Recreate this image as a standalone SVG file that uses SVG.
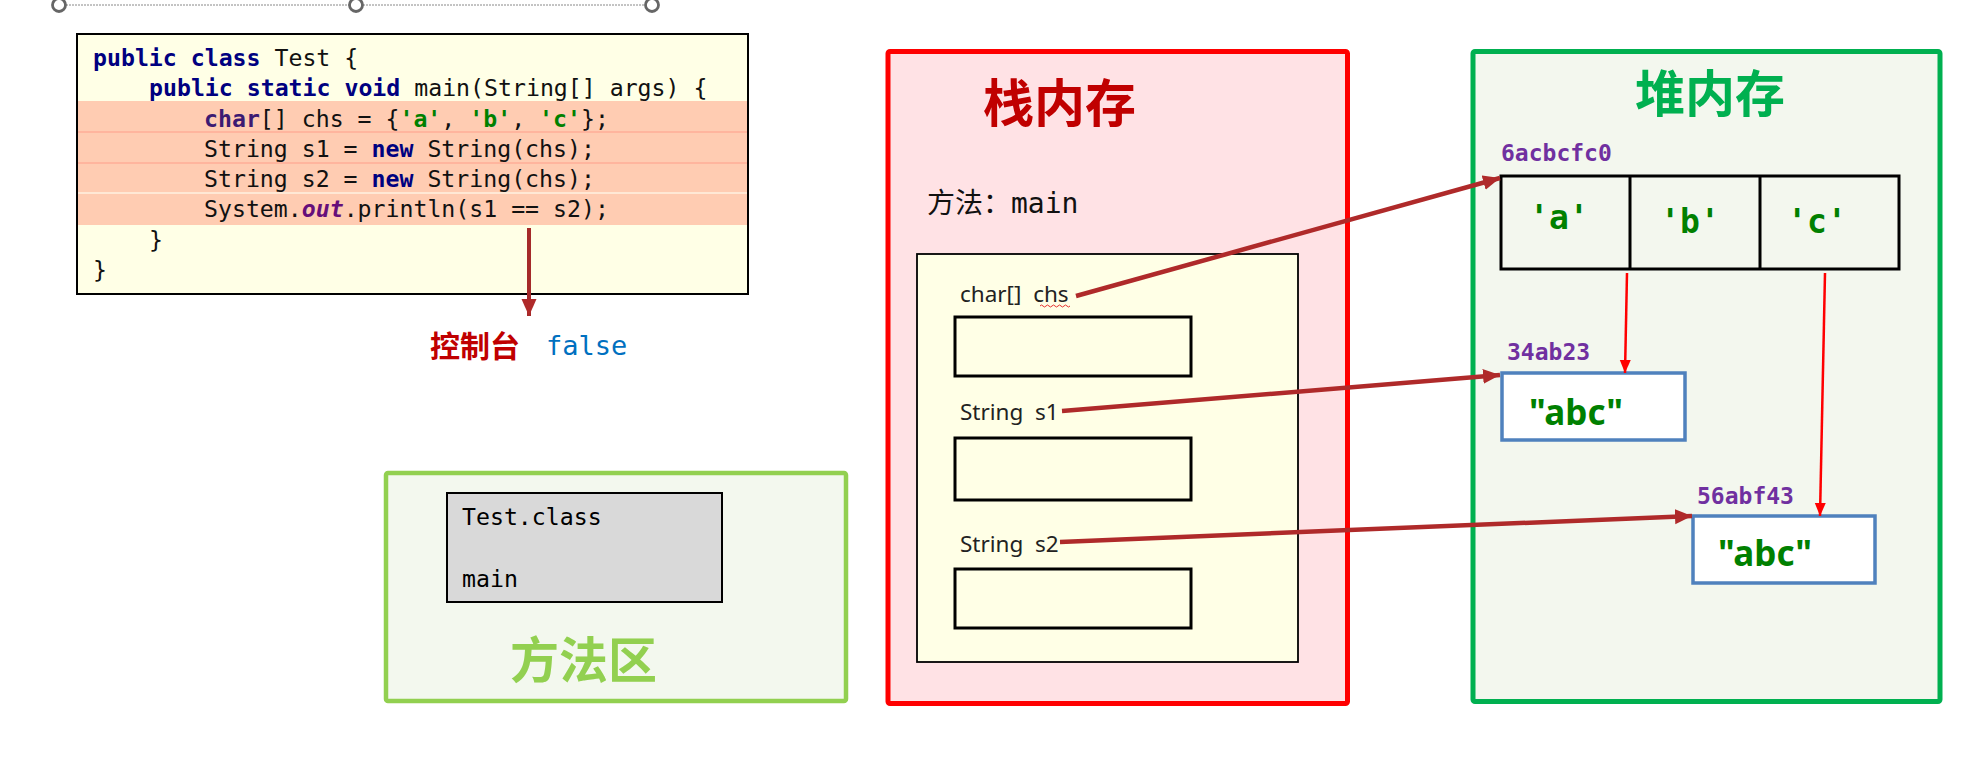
<svg xmlns="http://www.w3.org/2000/svg" width="1978" height="777" viewBox="0 0 1978 777">
<style>
.code{font-family:"DejaVu Sans Mono","Liberation Mono",monospace;font-size:23.2px;fill:#111}
.kw{fill:#000080;font-weight:bold}
.kc{fill:#3C1A72;font-weight:bold}
.str{fill:#008000;font-weight:bold}
.fld{fill:#660E7A;font-weight:bold;font-style:italic}
.sans{font-family:"Noto Sans","Liberation Sans",sans-serif}
.cjk{font-family:"Noto Sans CJK SC","Noto Sans",sans-serif}
.mono{font-family:"DejaVu Sans Mono","Liberation Mono",monospace}
.addr{font-family:"DejaVu Sans Mono","Liberation Mono",monospace;font-weight:bold;font-size:23px;fill:#7030A0}
.ptr{stroke:#AF2A2A;stroke-width:4.5;fill:none}
.ref{stroke:#FF0000;stroke-width:2.5;fill:none}
.sbox{fill:#FFFFFF;stroke:#4F81BD;stroke-width:3.5}
</style>
<defs>
<marker id="hb" markerUnits="userSpaceOnUse" markerWidth="18" markerHeight="16" refX="17" refY="7.5" orient="auto">
<path d="M0,0 L17,7.5 L0,15 z" fill="#AF2A2A"/>
</marker>
<marker id="hr" markerUnits="userSpaceOnUse" markerWidth="14" markerHeight="12" refX="13" refY="5.5" orient="auto">
<path d="M0,0 L13,5.5 L0,11 z" fill="#FF0000"/>
</marker>
</defs>

<g id="handles">
<line x1="66" y1="5" x2="349" y2="5" stroke="#888" stroke-width="1" stroke-dasharray="2 1"/>
<line x1="363" y1="5" x2="645" y2="5" stroke="#888" stroke-width="1" stroke-dasharray="2 1"/>
<circle cx="59" cy="5" r="6.5" fill="#fff" stroke="#666" stroke-width="2.8"/>
<circle cx="356" cy="5" r="6.5" fill="#fff" stroke="#666" stroke-width="2.8"/>
<circle cx="652" cy="5" r="6.5" fill="#fff" stroke="#666" stroke-width="2.8"/>
</g>

<g id="code">
<rect x="77" y="34" width="671" height="260" fill="#FFFFE6" stroke="#000" stroke-width="2"/>
<rect x="78" y="101" width="669" height="124" fill="#FFCCB2"/>
<line x1="78" y1="132" x2="747" y2="132" stroke="#FF9E8A" stroke-width="1"/>
<line x1="78" y1="163" x2="747" y2="163" stroke="#FF9E8A" stroke-width="1"/>
<line x1="78" y1="193" x2="747" y2="193" stroke="#FFF2E0" stroke-width="1.5"/>
<text class="code" x="93" y="66"><tspan class="kw">public class</tspan> Test {</text>
<text class="code" x="149" y="96"><tspan class="kw">public static void</tspan> main(String[] args) {</text>
<text class="code" x="204" y="127"><tspan class="kc">char</tspan>[] chs = {<tspan class="str">'a'</tspan>, <tspan class="str">'b'</tspan>, <tspan class="str">'c'</tspan>};</text>
<text class="code" x="204" y="157">String s1 = <tspan class="kw">new</tspan> String(chs);</text>
<text class="code" x="204" y="187">String s2 = <tspan class="kw">new</tspan> String(chs);</text>
<text class="code" x="204" y="217">System.<tspan class="fld">out</tspan>.println(s1 == s2);</text>
<text class="code" x="149" y="248">}</text>
<text class="code" x="93" y="278">}</text>
</g>

<g id="console">
<text class="cjk" x="430" y="357" font-size="30" font-weight="bold" fill="#C00000">控制台</text>
<text class="mono" x="546" y="355" font-size="27" fill="#0070C0">false</text>
</g>

<g id="method-area">
<rect x="386" y="473" width="460" height="228" fill="#F3F8EE" stroke="#92D050" stroke-width="4.5" rx="2"/>
<rect x="447" y="493" width="275" height="109" fill="#D9D9D9" stroke="#000" stroke-width="2"/>
<text class="mono" x="462" y="525" font-size="23.2" fill="#000">Test.class</text>
<text class="mono" x="462" y="587" font-size="23.2" fill="#000">main</text>
<text class="cjk" x="510" y="678" font-size="49" font-weight="bold" fill="#92D050">方法区</text>
</g>

<g id="stack">
<rect x="888" y="51.5" width="459.5" height="652" fill="#FFE2E5" stroke="#FF0000" stroke-width="5" rx="2"/>
<text class="cjk" x="983" y="122" font-size="51" font-weight="bold" fill="#C00000">栈内存</text>
<text x="927" y="213" font-size="28" fill="#111"><tspan class="cjk">方法：</tspan><tspan class="mono">main</tspan></text>
<rect x="917" y="254" width="381" height="408" fill="#FFFFE6" stroke="#000" stroke-width="1.8"/>
<text class="sans" x="960" y="302" font-size="22.5" fill="#222" xml:space="preserve">char[]  chs</text>
<path d="M1040,306 q1.5,-2 3,0 t3,0 t3,0 t3,0 t3,0 t3,0 t3,0 t3,0 t3,0 t3,0" fill="none" stroke="#E53030" stroke-width="1"/>
<rect x="955" y="317" width="236" height="59" fill="none" stroke="#000" stroke-width="3"/>
<text class="sans" x="960" y="420" font-size="22.5" fill="#222" xml:space="preserve">String  s1</text>
<rect x="955" y="438" width="236" height="62" fill="none" stroke="#000" stroke-width="3"/>
<text class="sans" x="960" y="552" font-size="22.5" fill="#222" xml:space="preserve">String  s2</text>
<rect x="955" y="569" width="236" height="59" fill="none" stroke="#000" stroke-width="3"/>
</g>

<g id="heap">
<rect x="1473" y="51.5" width="467" height="650" fill="#F3F7EE" stroke="#00B050" stroke-width="5" rx="2"/>
<text class="cjk" x="1635" y="112" font-size="50" font-weight="bold" fill="#00B050">堆内存</text>
</g>

<g id="char-array">
<text class="addr" x="1501" y="161">6acbcfc0</text>
<rect x="1501" y="176" width="398" height="93" fill="none" stroke="#000" stroke-width="3"/>
<line x1="1630" y1="176" x2="1630" y2="270" stroke="#000" stroke-width="3"/>
<line x1="1760" y1="176" x2="1760" y2="270" stroke="#000" stroke-width="3"/>
<text class="mono" x="1559" y="229" font-size="33" font-weight="bold" fill="#008000" text-anchor="middle">'a'</text>
<text class="mono" x="1690" y="233" font-size="33" font-weight="bold" fill="#008000" text-anchor="middle">'b'</text>
<text class="mono" x="1817" y="233" font-size="33" font-weight="bold" fill="#008000" text-anchor="middle">'c'</text>
</g>

<g id="string1">
<text class="addr" x="1507" y="360">34ab23</text>
<rect class="sbox" x="1502" y="373" width="183" height="67"/>
<text class="sans" x="1529" y="425" font-size="35" font-weight="bold" fill="#008000">"abc"</text>
</g>

<g id="string2">
<text class="addr" x="1697" y="504">56abf43</text>
<rect class="sbox" x="1693" y="516" width="182" height="67"/>
<text class="sans" x="1718" y="566" font-size="35" font-weight="bold" fill="#008000">"abc"</text>
</g>

<g id="connectors">
<line x1="529" y1="228" x2="529" y2="316" stroke="#A52A2A" stroke-width="4" marker-end="url(#hb)"/>
<line class="ptr" x1="1076" y1="296" x2="1500" y2="178" marker-end="url(#hb)"/>
<line class="ptr" x1="1062" y1="411" x2="1500" y2="375" marker-end="url(#hb)"/>
<line class="ptr" x1="1060" y1="542" x2="1692" y2="516" marker-end="url(#hb)"/>
<line class="ref" x1="1627" y1="273" x2="1625" y2="373" marker-end="url(#hr)"/>
<line class="ref" x1="1825" y1="273" x2="1820" y2="516" marker-end="url(#hr)"/>
</g>
</svg>
